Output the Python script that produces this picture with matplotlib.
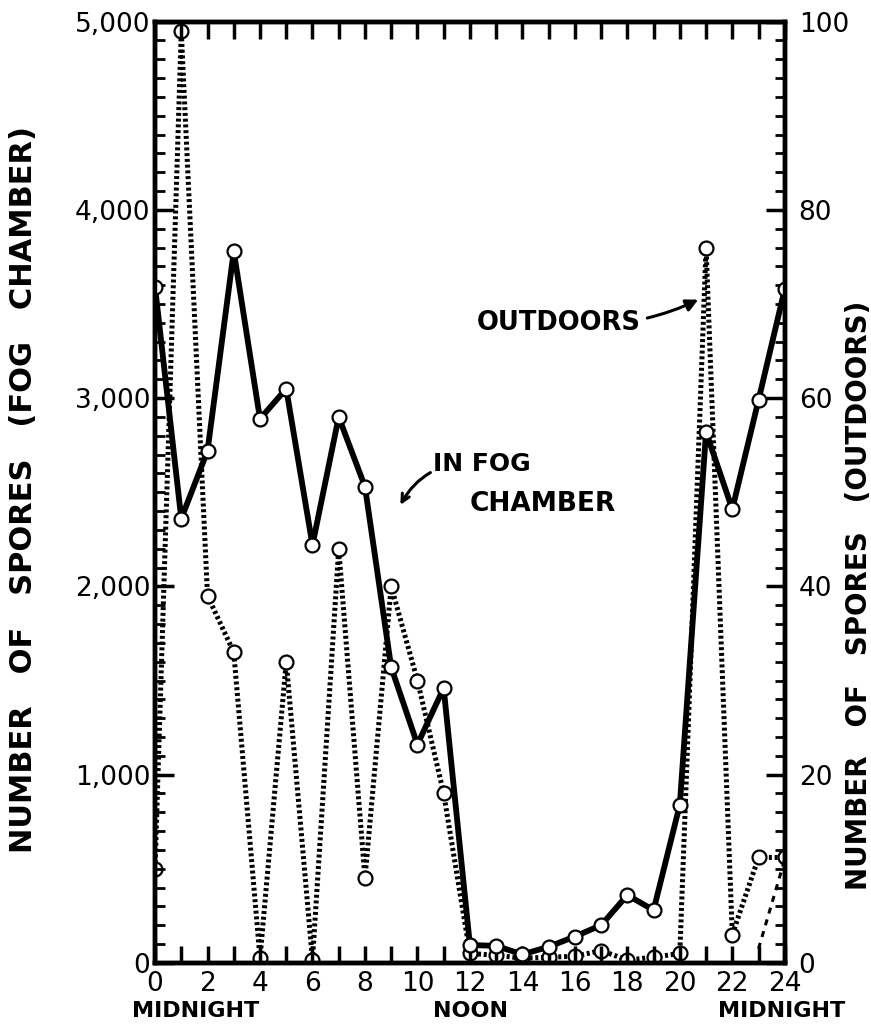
import matplotlib.pyplot as plt
from matplotlib.ticker import MultipleLocator, FuncFormatter

# hours after midnight
hours = list(range(25))

# spores counted in the fog chamber (left axis)
fog_chamber = [3590, 2360, 2720, 3780, 2890, 3050, 2220, 2900, 2530, 1570,
               1160, 1460, 95, 90, 45, 85, 140, 200, 360, 280,
               840, 2820, 2410, 2990, 3580]

# spores counted outdoors (right axis)
outdoors = [10, 99, 39, 33, 0.5, 32, 0.3, 44, 9, 40,
            30, 18, 1, 0.8, 0.5, 0.6, 0.7, 1.3, 0.3, 0.6,
            1, 76, 3, 11.2, 11.2]

# short broken trace near the end of the night
late_hours = [23, 24]
late_trace = [1.5, 11]

xtick_labels = [str(h) for h in range(0, 25, 2)]

fig = plt.figure(figsize=(8.71, 10.32), dpi=100)
ax = fig.add_axes([0.178, 0.067, 0.723, 0.912])
ax2 = ax.twinx()
ax.set_zorder(ax2.get_zorder() + 1)
ax.patch.set_visible(False)

# outdoors: heavy dotted line with open circles
ax2.plot(hours, outdoors, color="black", lw=3.6, dashes=(0.6, 0.55),
         marker="o", ms=10, mfc="white", mec="black", mew=1.6,
         solid_capstyle="butt", dash_capstyle="butt")
ax2.plot(late_hours, late_trace, color="black", lw=2.2, dashes=(2, 2))

# fog chamber: heavy solid line with open circles
ax.plot(hours, fog_chamber, color="black", lw=4.2,
        marker="o", ms=10, mfc="white", mec="black", mew=1.6)

ax.set_xlim(0, 24)
ax.set_ylim(0, 5000)
ax2.set_ylim(0, 100)

ax.xaxis.set_minor_locator(MultipleLocator(1))
ax.set_xticks(range(0, 25, 2))
ax.set_xticklabels(xtick_labels)
ax.yaxis.set_major_locator(MultipleLocator(1000))
ax.yaxis.set_minor_locator(MultipleLocator(100))
ax.yaxis.set_major_formatter(FuncFormatter(lambda v, p: f"{int(v):,}"))
ax2.yaxis.set_major_locator(MultipleLocator(20))
ax2.yaxis.set_minor_locator(MultipleLocator(2))

ax.tick_params(axis="x", which="both", direction="in", top=True, bottom=True,
               width=2.5, length=12, labelsize=19, pad=6)
ax.tick_params(axis="y", which="major", direction="in", length=14, width=2.5,
               labelsize=19, right=False)
ax.tick_params(axis="y", which="minor", direction="in", length=7, width=2,
               right=False)
ax2.tick_params(axis="y", which="major", direction="in", length=14, width=2.5,
                labelsize=19, pad=10)
ax2.tick_params(axis="y", which="minor", direction="in", length=7, width=2)

for a in (ax, ax2):
    for s in a.spines.values():
        s.set_linewidth(3.2)

ax.set_ylabel("NUMBER   OF   SPORES   (FOG   CHAMBER)", fontsize=22,
              fontweight="bold")
ax.yaxis.set_label_coords(-0.186, 0.503)
ax2.set_ylabel("NUMBER   OF   SPORES   (OUTDOORS)", fontsize=20,
               fontweight="bold")
ax2.yaxis.set_label_coords(1.095, 0.39)

fig.text(0.225, 0.015, "MIDNIGHT", ha="center", fontsize=16, fontweight="bold")
fig.text(0.54, 0.015, "NOON", ha="center", fontsize=16, fontweight="bold")
fig.text(0.897, 0.015, "MIDNIGHT", ha="center", fontsize=16, fontweight="bold")

# labels with pointer lines
ax.annotate("OUTDOORS", xy=(20.8, 3530), xytext=(18.5, 3400),
            ha="right", va="center", fontsize=18.5, fontweight="bold",
            arrowprops=dict(arrowstyle="-|>", lw=2.2, color="black",
                            mutation_scale=18, shrinkA=3,
                            connectionstyle="arc3,rad=0.15"))
ax.annotate("IN FOG", xy=(9.3, 2420), xytext=(10.6, 2650),
            ha="left", va="center", fontsize=18, fontweight="bold",
            arrowprops=dict(arrowstyle="->", lw=2.2, color="black",
                            mutation_scale=14, shrinkA=0,
                            connectionstyle="arc3,rad=0.35"))
ax.text(12.0, 2440, "CHAMBER", ha="left", va="center", fontsize=19,
        fontweight="bold")

fig.savefig("out.png", dpi=100)
